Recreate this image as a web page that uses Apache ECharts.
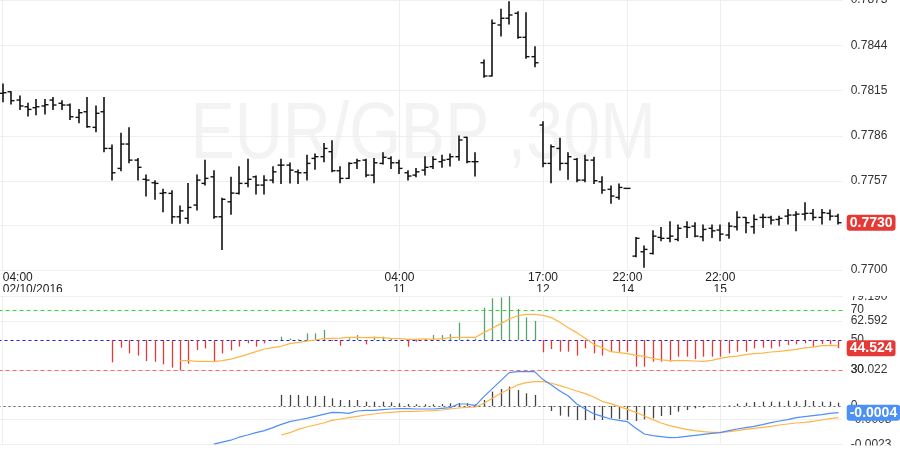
<!DOCTYPE html>
<html><head><meta charset="utf-8">
<script src="https://cdn.jsdelivr.net/npm/echarts@6/dist/echarts.min.js"></script>
<style>html,body{margin:0;padding:0;background:#fff}#c{width:900px;height:451px}</style>
</head><body><div id="c"></div>
<script>
// ---- OHLC (EUR/GBP, 30M) ----
const open = [0.78132,0.78142,0.78089,0.78046,0.78040,0.78051,0.78089,0.78068,0.78057,0.77978,
0.78014,0.77914,0.78014,0.77779,0.77651,0.77807,0.77704,0.77581,0.77559,0.77491,
0.77491,0.77341,0.77331,0.77416,0.77555,0.77597,0.77341,0.77437,0.77491,0.77555,
0.77597,0.77544,0.77576,0.77672,0.77672,0.77629,0.77623,0.77715,0.77726,0.77758,
0.77636,0.77587,0.77687,0.77704,0.77608,0.77683,0.77715,0.77687,0.77623,0.77608,
0.77640,0.77662,0.77694,0.77709,0.77726,0.77850,0.77694,0.78328,0.78243,0.78570,
0.78613,0.78645,0.78491,0.78367,0.77929,0.77683,0.77779,0.77683,0.77709,0.77576,
0.77704,0.77565,0.77517,0.77465,0.77523,0.77089,0.77117,0.77106,0.77209,0.77203,
0.77196,0.77277,0.77281,0.77213,0.77267,0.77256,0.77224,0.77277,0.77337,0.77277,
0.77337,0.77337,0.77324,0.77345,0.77352,0.77358,0.77363,0.77337,0.77363,0.77345];
const high = [0.78192,0.78142,0.78115,0.78068,0.78093,0.78093,0.78106,0.78085,0.78063,0.78029,
0.78106,0.78051,0.78106,0.77801,0.77876,0.77911,0.77715,0.77608,0.77572,0.77517,
0.77508,0.77410,0.77555,0.77608,0.77704,0.77636,0.77459,0.77594,0.77662,0.77709,
0.77602,0.77604,0.77662,0.77709,0.77685,0.77640,0.77736,0.77743,0.77811,0.77828,
0.77662,0.77687,0.77709,0.77709,0.77715,0.77751,0.77726,0.77704,0.77636,0.77651,
0.77726,0.77726,0.77736,0.77743,0.77858,0.77850,0.77751,0.78345,0.78602,0.78670,
0.78719,0.78655,0.78649,0.78431,0.77950,0.77801,0.77844,0.77751,0.77715,0.77736,
0.77722,0.77597,0.77538,0.77551,0.77523,0.77209,0.77153,0.77251,0.77273,0.77309,
0.77288,0.77309,0.77303,0.77288,0.77288,0.77288,0.77303,0.77373,0.77337,0.77352,
0.77358,0.77345,0.77345,0.77388,0.77373,0.77431,0.77388,0.77388,0.77384,0.77358];
const low = [0.78078,0.78063,0.78029,0.77986,0.77995,0.77999,0.78029,0.78029,0.77965,0.77944,
0.77914,0.77886,0.77758,0.77576,0.77636,0.77687,0.77576,0.77474,0.77453,0.77373,
0.77299,0.77299,0.77299,0.77384,0.77544,0.77331,0.77132,0.77358,0.77487,0.77533,
0.77487,0.77487,0.77559,0.77555,0.77557,0.77555,0.77576,0.77645,0.77694,0.77629,
0.77559,0.77587,0.77651,0.77597,0.77559,0.77679,0.77651,0.77619,0.77576,0.77597,
0.77608,0.77651,0.77658,0.77666,0.77704,0.77687,0.77602,0.78235,0.78243,0.78499,
0.78576,0.78485,0.78356,0.78303,0.77662,0.77559,0.77640,0.77581,0.77565,0.77565,
0.77555,0.77491,0.77427,0.77453,0.77523,0.77085,0.77017,0.77102,0.77187,0.77181,
0.77187,0.77209,0.77213,0.77187,0.77209,0.77187,0.77203,0.77256,0.77238,0.77235,
0.77273,0.77294,0.77288,0.77294,0.77251,0.77320,0.77320,0.77294,0.77320,0.77294];
const close = [0.78136,0.78085,0.78051,0.78029,0.78046,0.78059,0.78057,0.78057,0.77982,0.78008,
0.77918,0.78004,0.77779,0.77623,0.77807,0.77704,0.77658,0.77576,0.77555,0.77495,
0.77341,0.77379,0.77401,0.77576,0.77587,0.77341,0.77453,0.77493,0.77555,0.77581,
0.77544,0.77576,0.77629,0.77672,0.77640,0.77623,0.77683,0.77726,0.77779,0.77636,
0.77587,0.77683,0.77700,0.77608,0.77687,0.77722,0.77687,0.77651,0.77602,0.77629,
0.77658,0.77709,0.77704,0.77726,0.77833,0.77694,0.77694,0.78243,0.78581,0.78613,
0.78634,0.78491,0.78367,0.78328,0.77683,0.77790,0.77683,0.77726,0.77576,0.77704,
0.77572,0.77512,0.77474,0.77529,0.77523,0.77203,0.77132,0.77217,0.77203,0.77217,
0.77267,0.77273,0.77217,0.77260,0.77251,0.77230,0.77281,0.77337,0.77303,0.77324,
0.77337,0.77320,0.77331,0.77352,0.77358,0.77363,0.77337,0.77367,0.77345,0.77303];

// ---- RSI and its average ----
const rsi = [null,null,null,null,null,null,null,null,null,null,null,null,null,
35.1,44.9,41.1,39.6,36.0,35.5,33.8,
31.6,30.022,34.2,43.3,44.4,36.0,41.1,43.1,45.6,47.8,
45.6,47.8,49.5,52.2,51.0,50.5,54.4,54.4,56.7,49.3,
46.2,51.1,53.3,47.1,52.2,52.2,50.7,50.0,45.6,48.9,
50.7,53.3,53.3,54.0,61.6,50.5,51.0,71.6,77.8,78.4,
79.19,70.7,65.1,62.7,41.8,44.0,42.2,42.2,39.6,44.4,
41.1,39.6,42.2,42.2,42.2,32.2,32.2,35.6,35.6,35.6,
38.9,38.9,37.3,38.9,38.9,38.9,41.1,42.2,42.2,44.4,
44.9,44.4,45.6,46.7,47.1,47.8,45.6,47.3,47.1,44.524];
const rsiMa = [null,null,null,null,null,null,null,null,null,null,null,null,null,null,null,null,null,null,null,null,null,
36.2,36.2,35.8,35.8,35.6,36.2,37.3,38.7,40.4,
42.2,44.0,44.9,45.8,47.6,48.4,49.3,50.0,50.9,51.1,
51.3,51.8,51.8,51.6,51.8,51.6,51.1,50.9,50.4,50.4,
50.7,50.4,50.9,51.6,51.8,51.8,51.8,54.9,57.8,60.9,
64.0,66.2,67.1,67.1,66.4,64.9,61.8,58.2,54.9,51.1,
47.1,44.9,42.2,41.6,40.9,39.8,39.1,37.8,36.7,36.2,
36.2,36.2,36.0,35.8,36.4,37.8,38.7,39.3,40.2,40.9,
41.3,42.0,42.4,43.1,43.8,44.7,45.3,46.2,46.4,46.2];

// ---- MACD ----
const macd = [null,null,null,null,null,null,null,null,null,null,null,null,null,null,null,null,null,null,null,null,null,null,null,null,null,
-0.00229,-0.00217,-0.00205,-0.00187,-0.00174,-0.00160,-0.00148,-0.00130,-0.00110,-0.00094,
-0.00084,-0.00074,-0.00062,-0.00050,-0.00038,-0.00040,-0.00044,-0.00030,-0.00026,-0.00026,
-0.00022,-0.00018,-0.00016,-0.00016,-0.00018,-0.00018,-0.00018,-0.00014,-0.00010,0.00012,
0.00012,0.00002,0.00056,0.00104,0.00152,0.00200,0.00206,0.00206,0.00206,0.00158,
0.00126,0.00090,0.00060,0.00012,-0.00018,-0.00046,-0.00062,-0.00078,-0.00086,-0.00094,
-0.00134,-0.00168,-0.00178,-0.00184,-0.00190,-0.00188,-0.00182,-0.00176,-0.00170,-0.00164,
-0.00160,-0.00148,-0.00138,-0.00130,-0.00122,-0.00112,-0.00100,-0.00090,-0.00082,-0.00070,
-0.00064,-0.00058,-0.00052,-0.00044,-0.00040];
const signal = [null,null,null,null,null,null,null,null,null,null,null,null,null,null,null,null,null,null,null,null,null,null,null,null,null,null,null,null,null,null,null,null,null,
-0.00174,-0.00160,-0.00140,-0.00126,-0.00114,-0.00102,-0.00086,
-0.00078,-0.00070,-0.00062,-0.00054,-0.00048,-0.00042,-0.00038,-0.00034,-0.00032,-0.00032,
-0.00030,-0.00028,-0.00024,-0.00018,-0.00012,-0.00008,-0.00006,0.00016,0.00046,0.00076,
0.00102,0.00126,0.00140,0.00146,0.00146,0.00136,0.00122,0.00106,0.00090,0.00074,
0.00054,0.00028,0.00014,-0.00002,-0.00020,-0.00038,-0.00060,-0.00082,-0.00102,-0.00118,
-0.00130,-0.00140,-0.00148,-0.00154,-0.00158,-0.00158,-0.00154,-0.00148,-0.00140,-0.00134,
-0.00128,-0.00122,-0.00114,-0.00108,-0.00102,-0.00098,-0.00092,-0.00084,-0.00076,-0.00070];
const hist = [null,null,null,null,null,null,null,null,null,null,null,null,null,null,null,null,null,null,null,null,null,null,null,null,null,null,null,null,null,null,null,null,null,
0.00066,0.00066,0.00066,0.00060,0.00060,0.00060,0.00046,
0.00036,0.00036,0.00036,0.00026,0.00026,0.00026,0.00022,0.00016,0.00012,0.00010,
0.00010,0.00010,0.00012,0.00016,0.00018,0.00016,0.00010,0.00036,0.00086,0.00102,
0.00116,0.00096,0.00076,0.00066,-0.00004,-0.00030,-0.00058,-0.00064,-0.00084,-0.00084,
-0.00084,-0.00084,-0.00074,-0.00078,-0.00084,-0.00090,-0.00080,-0.00074,-0.00060,-0.00054,
-0.00034,-0.00024,-0.00014,-0.00010,-0.00004,0.00001,0.00004,0.00014,0.00020,0.00024,
0.00026,0.00026,0.00026,0.00032,0.00028,0.00036,0.00030,0.00026,0.00026,0.00020];

// ---- axes / labels ----
const timeLabels = {0:'04:00\n02/10/2016', 47:'04:00\n11', 64:'17:00\n12', 74:'22:00\n14', 85:'22:00\n15'};
const priceTicks = [0.7700, 0.77285, 0.7757, 0.7786, 0.7815, 0.7844, 0.7873];
const rsiTicks = [30.022, 62.592, 79.19];
const rsiLevels = [70, 50, 30];
const macdTicks = [-0.00229, -0.0008, 0];
const title = 'EUR/GBP ,30M';

const cats = close.map((_, i) => String(i));
const labelIdx = Object.keys(timeLabels).map(Number);
const GL = -1.5, GR = 57.3;
const FONT = '"Liberation Sans", Arial, Helvetica, sans-serif';
const HIDDEN_LINE = { color: 'rgba(0,0,0,0)', width: 0 };

function vLines() {
  return labelIdx.map(i => ({ xAxis: i, lineStyle: { color: '#eeeeee', type: 'solid', width: 1 }, label: { show: false } }));
}
function boxLabel(text, bg) {
  return { show: true, position: 'end', distance: 4, formatter: text, color: '#fff', fontWeight: 'bold',
    fontSize: 14, fontFamily: FONT, backgroundColor: bg, padding: [1, 3, 0, 3], borderRadius: 3, lineHeight: 15 };
}
function levelLabel(text) {
  return { show: true, position: 'end', distance: 8, formatter: text, color: '#333', fontSize: 12, fontFamily: FONT };
}
function markLines(items) {
  return { silent: true, symbol: ['none', 'none'], animation: false, precision: 8, data: items };
}

function renderOHLC(params, api) {
  const i = api.value(0);
  const o = api.coord([i, api.value(1)]);
  const h = api.coord([i, api.value(2)]);
  const l = api.coord([i, api.value(3)]);
  const c = api.coord([i, api.value(4)]);
  const x = Math.round(h[0]);
  return { type: 'group', children: [
    { type: 'line', shape: { x1: x, y1: h[1] - 0.5, x2: x, y2: l[1] + 0.5 }, style: { stroke: '#111', lineWidth: 1.6 } },
    { type: 'line', shape: { x1: x - 3.5, y1: o[1], x2: x, y2: o[1] }, style: { stroke: '#111', lineWidth: 1.4 } },
    { type: 'line', shape: { x1: x, y1: c[1], x2: x + 3.5, y2: c[1] }, style: { stroke: '#111', lineWidth: 1.4 } }
  ] };
}
function makeStem(base, upColor, downColor) {
  return function (params, api) {
    const i = api.value(0), v = api.value(1);
    const p0 = api.coord([i, base]);
    const p1 = api.coord([i, v]);
    const x = Math.round(p0[0]) + 0.5;
    return { type: 'line', shape: { x1: x, y1: p0[1], x2: x, y2: p1[1] },
      style: { stroke: v >= base ? upColor : downColor, lineWidth: 1.3 } };
  };
}
const pairs = arr => arr.map((v, i) => [i, v]).filter(d => d[1] !== null);

const xAxes = [0, 1, 2].map(k => ({
  type: 'category', gridIndex: k, data: cats, boundaryGap: true,
  axisLine: { show: false }, axisTick: { show: false }, splitLine: { show: false },
  axisLabel: k === 0 ? {
    show: true, interval: (idx) => timeLabels[idx] !== undefined,
    formatter: (v, idx) => timeLabels[idx] || '', color: '#222', fontSize: 12, lineHeight: 12,
    margin: 2, fontFamily: FONT, alignMinLabel: 'left'
  } : { show: false }
}));
function yAx(k, min, max, ticks, fmt) {
  return {
    type: 'value', gridIndex: k, position: 'right', min: min, max: max,
    axisLine: { show: false },
    axisTick: { show: false, customValues: ticks },
    axisLabel: { customValues: ticks, formatter: fmt, color: '#333', fontSize: 12, margin: 8, fontFamily: FONT },
    splitLine: { show: true, lineStyle: { color: '#efefef', width: 1 } }
  };
}

const option = {
  animation: false,
  textStyle: { fontFamily: FONT },
  grid: [
    { left: GL, right: GR, top: 0, height: 270, outerBoundsMode: 'none', containLabel: false },
    { left: GL, right: GR, top: 296.2, height: 73.95, outerBoundsMode: 'none', containLabel: false },
    { left: GL, right: GR, top: 371.6, height: 72.6, outerBoundsMode: 'none', containLabel: false }
  ],
  xAxis: xAxes,
  yAxis: [
    yAx(0, 0.7700, 0.7873, priceTicks, v => v.toFixed(4)),
    yAx(1, 29.9, 79.19, rsiTicks, v => v.toFixed(3)),
    yAx(2, -0.00229, 0.00206, macdTicks, v => (v === 0 ? '0' : v.toFixed(4)))
  ],
  graphic: [
    { type: 'text', x: 423, y: 136, z: -10, scaleX: 0.83, silent: true,
      style: { text: title, fontSize: 80, fontFamily: FONT, fill: '#f3f3f3', align: 'center', verticalAlign: 'middle' } },
    { type: 'rect', z: 100, silent: true, shape: { x: 0, y: 292, width: 900, height: 4 }, style: { fill: '#fff' } },
    { type: 'rect', z: 100, silent: true, shape: { x: 845, y: 286, width: 55, height: 10 }, style: { fill: '#fff' } },
    { type: 'rect', z: 100, silent: true, shape: { x: 845, y: 445.5, width: 55, height: 6 }, style: { fill: '#fff' } }
  ],
  series: [
    { type: 'custom', name: 'EUR/GBP', xAxisIndex: 0, yAxisIndex: 0, z: 10,
      renderItem: renderOHLC, encode: { x: 0, y: [1, 2, 3, 4] },
      data: close.map((c, i) => [i, open[i], high[i], low[i], c]) },
    { type: 'line', name: 'close', xAxisIndex: 0, yAxisIndex: 0, data: close, symbol: 'none', silent: true,
      lineStyle: { width: 0, color: 'rgba(0,0,0,0)' }, z: 1,
      markLine: markLines(vLines().concat([{ yAxis: close[close.length - 1], lineStyle: HIDDEN_LINE,
          label: boxLabel(close[close.length - 1].toFixed(4), '#e53935') }])) },
    { type: 'custom', name: 'RSI', xAxisIndex: 1, yAxisIndex: 1, z: 10,
      renderItem: makeStem(50, '#55a46a', '#e53935'), encode: { x: 0, y: 1 }, data: pairs(rsi) },
    { type: 'line', name: 'RSI MA', xAxisIndex: 1, yAxisIndex: 1, data: rsiMa, symbol: 'none', z: 11,
      lineStyle: { color: '#ffb547', width: 1.2 },
      markLine: markLines(vLines().concat([
          { yAxis: rsiLevels[0], lineStyle: { color: '#33dd33', type: [4, 3], width: 1 }, label: levelLabel(String(rsiLevels[0])) },
          { yAxis: rsiLevels[1], lineStyle: { color: '#1f1fe0', type: [3, 3], width: 1 }, label: levelLabel(String(rsiLevels[1])) },
          { yAxis: rsiLevels[2], lineStyle: { color: '#ff6b6b', type: [4, 3], width: 1 }, label: levelLabel(String(rsiLevels[2])) },
          { yAxis: rsi[rsi.length - 1], lineStyle: HIDDEN_LINE, label: boxLabel(rsi[rsi.length - 1].toFixed(3), '#e53935') }
        ])) },
    { type: 'custom', name: 'MACD hist', xAxisIndex: 2, yAxisIndex: 2, z: 10,
      renderItem: makeStem(0, '#444', '#444'), encode: { x: 0, y: 1 }, data: pairs(hist) },
    { type: 'line', name: 'MACD', xAxisIndex: 2, yAxisIndex: 2, data: macd, symbol: 'none', z: 12,
      lineStyle: { color: '#4f8ff7', width: 1.2 },
      markLine: markLines(vLines().concat([
          { yAxis: 0, lineStyle: { color: '#666', type: [2, 3], width: 1 }, label: { show: false } },
          { yAxis: macd[macd.length - 1], lineStyle: HIDDEN_LINE, label: boxLabel(macd[macd.length - 1].toFixed(4), '#4a90f6') }
        ])) },
    { type: 'line', name: 'Signal', xAxisIndex: 2, yAxisIndex: 2, data: signal, symbol: 'none', z: 11,
      lineStyle: { color: '#ffb547', width: 1.2 } }
  ]
};
const chart = echarts.init(document.getElementById('c'), null, { renderer: 'canvas' });
chart.setOption(option);
</script></body></html>
